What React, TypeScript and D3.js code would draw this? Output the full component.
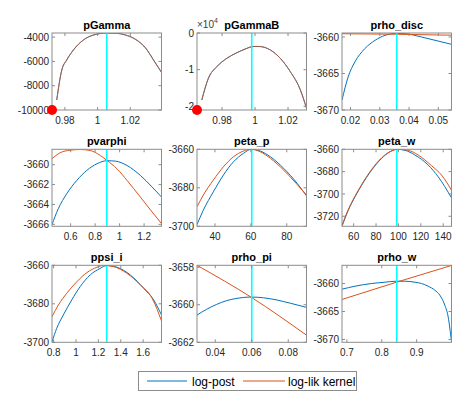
import React from "react";
import * as d3 from "d3";

// ---- data (mode check plots) ----
const titles = ["pGamma", "pGammaB", "prho_disc", "pvarphi", "peta_p", "peta_w", "ppsi_i", "prho_pi", "prho_w"];
const modes = [1.0056, 0.998, 0.0358, 0.895, 60.5, 98.5, 1.2745, 0.06, 0.843];

const xDomains: number[][] = [
  [0.9721, 1.0391], [0.9648, 1.0312], [0.0171, 0.0545],
  [0.448, 1.342], [30, 91], [49.6, 147.4],
  [0.7857, 1.7638], [0.03, 0.09], [0.686, 1.0],
];
const yDomains: number[][] = [
  [-10000, -3659.5], [-21000, 0], [-3670, -3659.45],
  [-3666.2, -3658.45], [-3700, -3660], [-3729, -3660],
  [-3700, -3660], [-3662, -3657.9], [-3670.5, -3656.75],
];
const xTicks: number[][] = [
  [0.98, 1, 1.02], [0.98, 1, 1.02], [0.02, 0.03, 0.04, 0.05],
  [0.6, 0.8, 1, 1.2], [40, 60, 80], [60, 80, 100, 120, 140],
  [0.8, 1, 1.2, 1.4, 1.6], [0.04, 0.06, 0.08], [0.7, 0.8, 0.9],
];
const yTicks: number[][] = [
  [-10000, -8000, -6000, -4000], [-20000, -10000, 0], [-3670, -3665, -3660],
  [-3666, -3664, -3662, -3660], [-3700, -3680, -3660], [-3720, -3700, -3680, -3660],
  [-3700, -3680, -3660], [-3662, -3660, -3658], [-3670, -3665, -3660],
];

type Pt = [number, number];

const pGammaPost: Pt[] = [
  [0.975, -9176], [0.9781, -6706], [0.9811, -5883], [0.9852, -5059], [0.9913, -4236],
  [0.9975, -3824], [1.0057, -3659.5], [1.0119, -3684], [1.017, -3824], [1.0221, -4096],
  [1.0303, -5059], [1.0342, -5883], [1.0391, -6900],
];
const pGammaBPost: Pt[] = [
  [0.9677, -18273], [0.9717, -12355], [0.9768, -9191], [0.9829, -6900], [0.989, -5373],
  [0.9951, -4173], [0.9977, -3760], [1.0, -3660], [1.0032, -3700], [1.0093, -4636],
  [1.0153, -6900], [1.0214, -10555], [1.0275, -15545], [1.0312, -20536],
];
const prhoDiscPost: Pt[] = [
  [0.0171, -3668.64], [0.0192, -3665.46], [0.0215, -3663.41], [0.0249, -3661.59],
  [0.0284, -3660.45], [0.0318, -3659.77], [0.0355, -3659.5], [0.0386, -3659.54],
  [0.0443, -3660.0], [0.0499, -3660.55], [0.0545, -3661.0],
];
const prhoDiscLik: Pt[] = [[0.0171, -3659.55], [0.0355, -3659.62], [0.0545, -3659.75]];
const pvarphiPost: Pt[] = [
  [0.448, -3666.03], [0.4997, -3664.42], [0.5685, -3662.92], [0.6505, -3661.58],
  [0.7325, -3660.57], [0.8145, -3659.91], [0.8965, -3659.6], [0.9646, -3659.64],
  [1.0605, -3660.08], [1.1696, -3661.08], [1.2655, -3662.25], [1.342, -3663.25],
];
const pvarphiLik: Pt[] = [
  [0.448, -3659.4], [0.514, -3658.8], [0.596, -3658.54], [0.678, -3658.47], [0.76, -3658.57],
  [0.842, -3659.07], [0.8965, -3659.57], [0.9785, -3660.41], [1.0605, -3661.58],
  [1.1696, -3663.26], [1.2655, -3664.76], [1.342, -3665.93],
];
const petaPPost: Pt[] = [
  [30, -3699.1], [33.5, -3691.65], [39.1, -3682.1], [44.7, -3673.4], [50.3, -3666.5],
  [55.9, -3662.1], [60.2, -3660], [65.3, -3660.9], [70.9, -3663.9], [78.3, -3669.9],
  [85.8, -3677.7], [91, -3684.2],
];
const petaPLik: Pt[] = [
  [30, -3689.9], [33.5, -3683.8], [39.1, -3676.0], [44.7, -3669.1], [50.3, -3663.9],
  [55.9, -3660.9], [60.2, -3660], [65.3, -3661.3], [70.9, -3664.7], [78.3, -3670.8],
  [85.8, -3678.3], [91, -3683.8],
];
const petaWPost: Pt[] = [
  [49.6, -3729], [55.2, -3714.6], [61.2, -3702.6], [67.2, -3692.1], [76.1, -3678.6],
  [85.0, -3668.1], [92.4, -3662.2], [98.4, -3660], [105.8, -3660.9], [114.7, -3665.1],
  [126.6, -3674.1], [135.5, -3684.6], [147.4, -3703.5],
];
const petaWLik: Pt[] = [
  [49.6, -3728.1], [55.2, -3714.0], [61.2, -3702.0], [67.2, -3691.5], [76.1, -3678.0],
  [85.0, -3667.6], [92.4, -3662.2], [99.8, -3660], [108.7, -3660.9], [117.6, -3665.1],
  [129.6, -3674.7], [138.5, -3683.1], [147.4, -3696.6],
];
const ppsiIPost: Pt[] = [
  [0.7857, -3699.7], [0.828, -3692.7], [0.887, -3685.8], [0.962, -3678.0], [1.037, -3671.1],
  [1.127, -3665.0], [1.216, -3661.6], [1.276, -3660.1], [1.366, -3661.0], [1.485, -3665.0],
  [1.605, -3672.0], [1.694, -3678.0], [1.7638, -3685.8],
];
const ppsiILik: Pt[] = [
  [0.7857, -3686.7], [0.843, -3680.6], [0.918, -3674.5], [1.008, -3668.5], [1.097, -3663.8],
  [1.187, -3661.0], [1.246, -3660.1], [1.336, -3660.7], [1.456, -3664.2], [1.575, -3670.2],
  [1.68, -3677.1], [1.7638, -3688.9],
];
const prhoPiPost: Pt[] = [
  [0.03, -3660.55], [0.0353, -3660.24], [0.0408, -3659.98], [0.0463, -3659.78],
  [0.0519, -3659.66], [0.0592, -3659.59], [0.0665, -3659.63], [0.0739, -3659.75],
  [0.0812, -3659.92], [0.09, -3660.14],
];
const prhoPiLik: Pt[] = [[0.03, -3657.9], [0.06, -3659.62], [0.09, -3661.62]];
const prhoWPost: Pt[] = [
  [0.686, -3661.02], [0.7232, -3660.48], [0.771, -3660.0], [0.809, -3659.77],
  [0.8426, -3659.59], [0.8663, -3659.59], [0.8949, -3659.77], [0.9141, -3660.0],
  [0.933, -3660.48], [0.9522, -3661.19], [0.9665, -3662.08], [0.9808, -3663.86],
  [0.9904, -3665.95], [1.0, -3670.4],
];
const prhoWLik: Pt[] = [[0.686, -3662.85], [0.843, -3659.75], [1.0, -3656.78]];

const postSeries: Pt[][] = [
  pGammaPost, pGammaBPost, prhoDiscPost, pvarphiPost, petaPPost,
  petaWPost, ppsiIPost, prhoPiPost, prhoWPost,
];
const likSeries: Pt[][] = [
  pGammaPost, pGammaBPost, prhoDiscLik, pvarphiLik, petaPLik,
  petaWLik, ppsiILik, prhoPiLik, prhoWLik,
];
// red markers at the lower-left corner of the first two plots
const redDots: (Pt | null)[] = [[0.9721, -10000], [0.9648, -21000], null, null, null, null, null, null, null];

const legendLabels = ["log-post", "log-lik kernel"];

// ---- layout ----
const W = 472;
const H = 397;
const colLeft = [52, 197, 342];
const rowTop = [33, 149.3, 265.3];
const PW = 109.5;
const PH = 77;
const BLUE = "#0072BD";
const ORANGE = "#D95319";
const FONT = "'Liberation Sans', Arial, Helvetica, sans-serif";

const fmt = (v: number) => String(+v.toFixed(6));

function Panel({ i }: { i: number }) {
  const left = colLeft[i % 3];
  const top = rowTop[Math.floor(i / 3)];
  const x = d3.scaleLinear().domain(xDomains[i]).range([left, left + PW]);
  const y = d3.scaleLinear().domain(yDomains[i]).range([top + PH, top]);
  const line = d3.line<Pt>().x(d => x(d[0])).y(d => y(d[1])).curve(d3.curveMonotoneX);
  const post = postSeries[i];
  const lik = likSeries[i];
  const same = post === lik;
  const scaled = i === 1;
  const dot = redDots[i];
  const bottom = top + PH;
  return (
    <g>
      <defs>
        <clipPath id={`clip${i}`}>
          <rect x={left} y={top} width={PW} height={PH} />
        </clipPath>
      </defs>
      <g clipPath={`url(#clip${i})`}>
        <path d={line(post) || ""} fill="none" stroke={BLUE} strokeWidth={1} />
        <path d={line(lik) || ""} fill="none" stroke={ORANGE} strokeWidth={1} strokeOpacity={same ? 0.75 : 1} />
        <line x1={x(modes[i])} x2={x(modes[i])} y1={top} y2={bottom} stroke="#00FFFF" strokeWidth={1.6} />
      </g>
      <rect x={left} y={top} width={PW} height={PH} fill="none" stroke="#8c8c8c" strokeWidth={1} />
      {xTicks[i].map(t => (
        <g key={`x${t}`}>
          <line x1={x(t)} x2={x(t)} y1={bottom} y2={bottom - 3} stroke="#8c8c8c" />
          <line x1={x(t)} x2={x(t)} y1={top} y2={top + 3} stroke="#8c8c8c" />
          <text x={x(t)} y={bottom + 14} textAnchor="middle" fontSize={10} fill="#262626">{fmt(t)}</text>
        </g>
      ))}
      {yTicks[i].map(t => (
        <g key={`y${t}`}>
          <line x1={left} x2={left + 3} y1={y(t)} y2={y(t)} stroke="#8c8c8c" />
          <line x1={left + PW} x2={left + PW - 3} y1={y(t)} y2={y(t)} stroke="#8c8c8c" />
          <text x={left - 3} y={y(t) + 3.6} textAnchor="end" fontSize={10} fill="#262626">
            {fmt(scaled ? t / 10000 : t)}
          </text>
        </g>
      ))}
      {scaled && (
        <text x={left} y={top - 5} fontSize={10} fill="#404040">
          ×10<tspan fontSize={7} dy={-5}>4</tspan>
        </text>
      )}
      <text x={left + PW / 2} y={top - 4.5} textAnchor="middle" fontSize={11} fontWeight="bold" fill="#000">
        {titles[i]}
      </text>
      {dot && <circle cx={x(dot[0])} cy={y(dot[1])} r={5} fill="#FF0000" />}
    </g>
  );
}

export default function App() {
  return (
    <svg width={W} height={H} style={{ position: "absolute", left: 0, top: 0, background: "#fff" }} fontFamily={FONT}>
      <rect x={0} y={0} width={W} height={H} fill="#fff" />
      {titles.map((_, i) => <Panel key={i} i={i} />)}
      <g>
        <rect x={138.5} y={371.5} width={218} height={19} fill="#fff" stroke="#8c8c8c" strokeWidth={1} />
        <line x1={147} x2={187} y1={381} y2={381} stroke={BLUE} strokeWidth={1} />
        <text x={192} y={385.5} fontSize={12} fill="#000">{legendLabels[0]}</text>
        <line x1={243} x2={285} y1={381} y2={381} stroke={ORANGE} strokeWidth={1} />
        <text x={288} y={385.5} fontSize={12} fill="#000">{legendLabels[1]}</text>
      </g>
    </svg>
  );
}
